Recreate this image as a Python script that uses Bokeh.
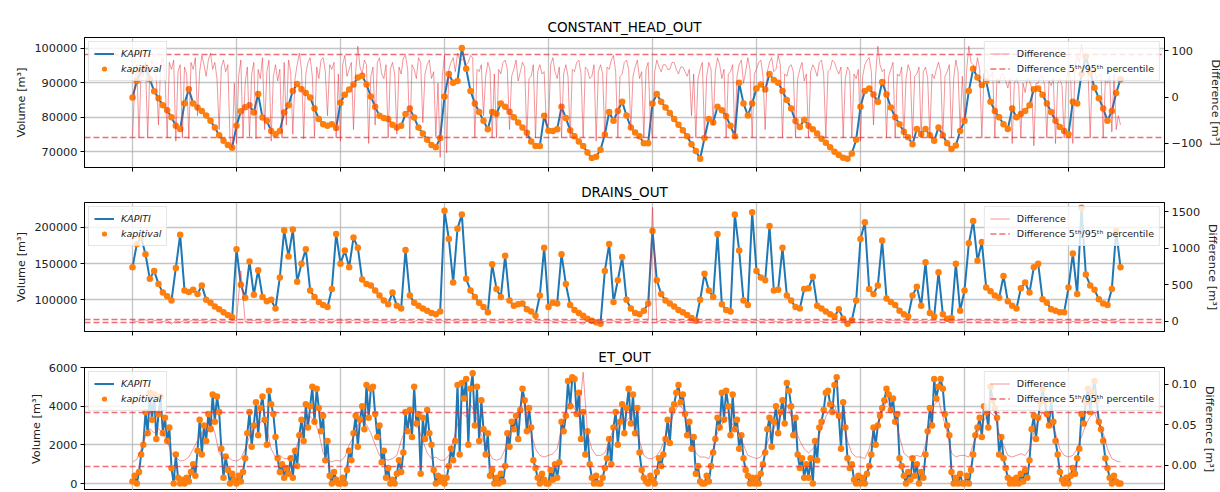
import numpy as np
from bokeh.plotting import figure
from bokeh.layouts import column
from bokeh.models import (Range1d, LinearAxis, FixedTicker, CustomJSTickFormatter,
                          Legend, LegendItem)
from bokeh.embed import file_html
from bokeh.resources import INLINE

# ---------------- data ----------------
# time axis ticks (years) shown as vertical grid lines
year_ticks = [0, 2, 4, 6, 8, 10, 12, 14, 16, 18]

# CONSTANT_HEAD_OUT volume, thousand m3, monthly samples
ch_vol_k = [
    85.7, 90.5, 93.5, 94.4, 91.0, 87.5, 85.5, 83.5, 82.0, 80.0, 77.5, 76.6,
    84.0, 88.1, 84.0, 82.8, 81.8, 80.5, 79.0, 77.0, 74.8, 73.2, 72.0, 71.2,
    77.5, 81.7, 82.9, 83.5, 81.4, 86.7, 79.9, 79.0, 76.0, 75.1, 76.0, 81.4,
    83.5, 87.6, 89.6, 88.1, 87.0, 85.7, 82.5, 79.5, 78.0, 77.5, 78.0, 76.9,
    84.2, 86.5, 88.0, 89.5, 91.5, 92.0, 89.5, 86.0, 83.0, 80.4, 79.8, 79.5,
    77.8, 77.0, 77.5, 80.9, 82.5, 79.9, 77.0, 75.3, 73.5, 72.0, 71.3, 74.0,
    86.0, 92.5, 90.0, 90.5, 100.0, 94.0, 87.6, 84.0, 81.5, 79.0, 76.5, 81.5,
    81.0, 84.0, 83.0, 81.6, 80.0, 78.5, 77.0, 75.5, 73.0, 71.7, 71.7, 80.4,
    76.1, 76.0, 76.5, 83.0, 79.8, 76.2, 74.5, 73.0, 71.7, 69.8, 68.2, 68.6,
    70.6, 75.0, 81.5, 79.0, 81.8, 84.5, 80.5, 77.0, 75.6, 74.5, 72.5, 72.5,
    84.0, 86.7, 84.5, 82.8, 81.2, 79.5, 77.8, 76.2, 74.5, 72.2, 70.2, 68.0,
    74.0, 79.5, 78.5, 83.0, 82.0, 80.3, 77.5, 74.5, 90.0, 84.0, 80.5, 84.0,
    88.3, 89.5, 88.0, 92.5, 90.8, 90.0, 87.6, 85.0, 82.5, 78.9, 77.2, 79.3,
    77.5, 76.5, 75.3, 73.8, 72.6, 71.3, 70.0, 69.1, 68.3, 68.0, 69.5, 73.5,
    83.0, 87.6, 88.3, 86.6, 84.5, 90.2, 86.6, 82.8, 80.0, 78.0, 75.8, 74.2,
    72.2, 76.6, 75.1, 76.6, 74.8, 73.2, 77.0, 74.8, 72.5, 70.8, 71.8, 76.0,
    79.0, 87.6, 94.0, 91.5, 89.3, 90.5, 84.5, 81.8, 80.0, 78.0, 76.6, 82.5,
    80.0, 80.9, 81.8, 83.5, 88.1, 88.3, 86.5, 84.0, 81.5, 79.0, 77.2, 76.0,
    75.1, 84.5, 84.0, 92.5, 97.5, 93.0, 88.5, 85.5, 82.5, 79.0, 81.8, 87.0, 91.0,
]
# CONSTANT_HEAD_OUT difference, m3, half-monthly samples
ch_diff = [
    -85, 20, 70, -88, 60, 45, 75, -88, 55, 80, 65, 40, -60, 70, 85, 50, -88, 75, 60, 80, -95, 55, 70, -88,
    65, 50, -90, 75, 60, 85, -40, 55, 90, 70, 45, 80, 95, 60, 75, 40, -70, 65, 80, 55, 70, -88, -110, 30,
    -100, 45, 80, -88, 30, 65, -85, 50, 75, -90, 60, 40, 85, -70, 55, 80, -95, 45, 70, 35, 60, -88, 75, -60,
    80, 55, -80, 40, 70, 95, 60, -90, 50, 75, 85, 45, -85, 65, 40, 80, 85, 55, -40, 70, 60, 75, -88, 50,
    -95, 70, 90, 45, 60, 75, -70, 55, 110, 65, 50, 80, 70, -100, 45, 65, -60, 75, 85, 50, 40, 70, -88, 60,
    75, 50, -80, 65, 50, 85, 90, 60, -90, 70, 60, 40, 85, 75, -55, 50, 70, 80, 40, 55, -85, 30, -130, 45,
    90, -120, 60, 75, 85, 55, 95, 80, 80, 85, 70, 75, 90, 85, -88, 60, 55, 70, -40, 45, 75, 60, -88, 50,
    -88, 60, 50, 75, 80, 60, -70, 45, 60, 80, 35, 55, 75, 65, -88, 40, 45, 70, -88, 55, 70, 50, 55, -60,
    -60, 70, 85, 55, 40, 65, -88, 50, 70, 45, -88, 60, 55, 75, 80, 50, -88, 65, 60, 40, 45, 70, -95, 55,
    70, 50, -88, 65, 60, 80, 90, 55, -88, 45, 50, 75, 80, 60, -70, 45, 65, 80, 40, 55, -88, 60, 75, -50,
    -88, 55, 80, 65, 55, 70, 70, 60, 60, 75, 75, 60, 50, 65, 65, 55, 45, 60, -40, 50, -88, 40, 60, 75,
    -88, 45, 75, 60, -60, 55, 85, 70, 40, 60, -88, 50, 55, 70, -88, 45, 70, 80, 30, 55, 85, 60, -88, 50,
    60, 75, 80, 45, -70, 55, 75, 85, 55, 60, 90, 70, -88, 50, 45, 65, 70, 55, -88, 40, 60, 75, 35, 50,
    -88, 55, 70, 60, 45, 75, 80, 50, -88, 55, 60, 80, 75, 60, 50, 65, -88, 40, 65, 55, -88, 50, 40, 60,
    -95, 45, 70, 80, 85, 55, -60, 50, 110, 70, 55, 60, -88, 45, 60, 75, -88, 50, 45, 65, -88, 40, 70, 55,
    -88, 45, 50, 65, -88, 55, 65, 40, -88, 50, 40, 60, 75, 55, -88, 45, 55, 70, -88, 40, 80, 55, -70, 45,
    -50, 60, 110, 75, 70, 55, 85, 60, -88, 50, 60, 45, 45, 55, -88, 40, 30, 50, 50, 35, 20, 40, -100, 30,
    40, 25, -88, 30, 10, 40, 35, 20, -105, 30, 30, 45, 45, 25, -88, 35, 25, 40, -100, 30, 40, 25, -88, 35,
    60, 40, -100, 65, 90, 75, 115, 80, 75, 60, -88, 55, 60, 40, 45, 50, -88, 35, 30, 45, -75, 50, -70, -40, -60,
]
ch_pct = [-88, 93]

# DRAINS_OUT volume, thousand m3, monthly samples
dr_vol_k = [
    145, 177, 186, 163, 129, 140, 122, 110, 105, 99, 144, 190,
    113, 111, 114, 108, 120, 100, 96, 91, 87, 83, 79, 76,
    170, 121, 103, 153, 107, 141, 104, 98, 100, 88, 131, 196,
    160, 197, 125, 150, 170, 113, 104, 97, 93, 90, 115, 191,
    150, 168, 145, 186, 172, 128, 122, 120, 113, 106, 99, 94,
    110, 92, 88, 169, 106, 96, 92, 88, 85, 82, 80, 84,
    223, 184, 124, 198, 218, 129, 113, 104, 96, 90, 83, 149,
    115, 104, 161, 99, 92, 94, 95, 87, 84, 78, 106, 172,
    90, 96, 95, 163, 122, 93, 86, 82, 78, 74, 71, 69,
    67, 140, 177, 97, 127, 159, 100, 88, 82, 80, 85, 95,
    195, 127, 108, 99, 95, 91, 86, 83, 79, 75, 71, 100,
    136, 113, 104, 191, 94, 86, 84, 218, 168, 99, 93, 221,
    140, 131, 127, 202, 113, 114, 172, 106, 99, 90, 88, 115,
    116, 132, 92, 88, 84, 80, 77, 87, 74, 67, 72, 99,
    184, 207, 115, 108, 120, 182, 102, 97, 93, 85, 80, 77,
    106, 118, 92, 152, 82, 77, 138, 80, 74, 75, 150, 85,
    113, 178, 209, 154, 180, 117, 112, 106, 103, 133, 98, 92,
    88, 116, 124, 110, 145, 150, 101, 96, 87, 85, 83, 83,
    117, 164, 108, 227, 135, 120, 114, 101, 95, 93, 115, 195, 145,
]
dr_diff = [
    10, -5, 15, 20, -10, 5, 18, -8, 12, -40, 8, -15,
    14, -6, 20, 2, 16, -12, 10, 24, -4, 12, -10, 6,
    8, 690, -15, 18, 5, 22, -8, 12, 0, 16, -12, 10,
    20, -5, 12, 25, -10, 8, 16, -6, 22, 4, -14, 12,
    6, 18, -8, 14, 22, -4, 10, -12, 18, 2, 15, -6,
    12, -10, 20, 4, 16, -8, 24, 6, -12, 14, 0, 18,
    -6, 22, 10, -8, 16, 4, 20, -10, 12, 18, -4, 8,
    15, -12, 6, 20, -6, 12, 24, -2, 10, -10, 16, 4,
    18, -4, 12, -8, 20, 6, 14, -15, -45, 10, -30, 8,
    12, -6, 18, 4, -10, 16, 22, -8, 10, 2, -14, 8,
    1560, -10, 14, 20, -6, 8, 16, -12, 12, 4, 18, -8,
    10, 20, -4, 14, -12, 22, 6, -8, 16, 2, 12, -6,
    18, -10, 8, 20, 4, -14, 16, 10, -6, 22, 0, 12,
    -8, 14, 20, -6, 10, 18, -12, 6, 22, -4, 12, -20,
    -15, 16, 6, -8, 20, 12, -10, 18, 4, 14, -6, 10,
    22, -4, 12, -12, 16, 8, -6, 20, 2, -10, 14, 6,
    -10, 18, 24, -6, 12, 4, 16, -8, 20, 10, -4, 14,
    8, -12, 16, 22, -2, 10, -8, 18, 6, 14, -10, 12,
    20, -6, 12, 4, 16, -8, 22, 10, -12, 14, 6, -4, 10,
]
dr_pct = [-22, 27]

# ET_OUT volume, m3, half-monthly samples
et_vol = [
    100, 400, 0, 600, 1500, 2000, 3700, 2600, 4700, 3300, 4600, 2300, 3600, 4500, 2600, 3400, 2200, 2900, 800, 0, 1500, 300, 0, 200,
    0, 300, 100, 600, 1000, 400, 1700, 3300, 1500, 3000, 2200, 3600, 2800, 4600, 3200, 4500, 3700, 1800, 300, 1400, 700, 0, 500, 200,
    0, 400, 100, 600, 1300, 2600, 3700, 1900, 3000, 4200, 2500, 3900, 4500, 3300, 2000, 4800, 4100, 3600, 2400, 1300, 600, 1000, 300, 800,
    500, 1300, 300, 1700, 900, 2500, 3300, 2200, 4100, 2900, 4000, 5000, 3200, 4900, 3900, 2700, 3500, 1200, 2200, 400, 0, 600, 200, 0,
    0, 300, 0, 700, 1700, 1200, 2600, 3500, 1900, 3300, 4000, 2800, 5100, 3400, 4900, 5000, 3600, 2400, 3000, 1100, 1700, 300, 800, 0,
    200, 0, 500, 1200, 600, 1600, 3700, 2700, 3800, 2400, 5000, 3100, 3600, 500, 3400, 2300, 3800, 2600, 2000, 700, 0, 400, 100, 300,
    0, 300, 900, 1800, 1200, 2200, 5100, 1500, 5200, 4400, 5400, 2000, 4900, 5700, 3000, 5000, 2200, 4300, 2800, 1500, 2600, 400, 700, 0,
    300, 0, 500, 100, 900, 2600, 1900, 3200, 2800, 3500, 2300, 3800, 4900, 4300, 2700, 3900, 2900, 1200, 800, 300, 0, 500, 200, 0,
    0, 700, 200, 1000, 300, 1100, 3200, 2700, 3500, 5300, 4000, 5500, 5400, 3600, 4700, 2300, 3700, 1500, 2700, 1000, 300, 0, 400, 0,
    0, 300, 800, 1300, 2300, 1000, 2900, 3700, 2000, 3200, 4100, 2600, 3900, 4900, 3100, 4600, 2600, 3900, 1600, 700, 300, 100, 0, 400,
    200, 0, 600, 1300, 900, 1500, 2300, 3300, 2100, 3800, 4100, 4700, 5100, 4200, 4600, 3600, 2500, 3200, 1800, 2400, 500, 900, 100, 0,
    0, 400, 100, 900, 1600, 2300, 3400, 2900, 4700, 3300, 4800, 4000, 2500, 4600, 2800, 3300, 1800, 2500, 1300, 700, 400, 0, 300, 0,
    300, 0, 500, 1000, 1600, 2800, 3400, 1900, 3200, 4000, 2600, 3700, 4300, 3100, 5200, 4800, 4000, 2500, 3400, 1500, 800, 1300, 300, 1000,
    300, 1300, 0, 2200, 1200, 2900, 3200, 3800, 4700, 4800, 4100, 3700, 5100, 5500, 3500, 1800, 4200, 2900, 1300, 800, 1000, 200, 0, 400,
    0, 300, 0, 500, 900, 1500, 2900, 2000, 3000, 3500, 3900, 4300, 4900, 4600, 3800, 4400, 3200, 3600, 1300, 900, 400, 0, 600, 200,
    1300, 400, 1000, 0, 600, 300, 1500, 2700, 3900, 3000, 5400, 4400, 5000, 5400, 4900, 3600, 3000, 2500, 600, 0, 300, 0, 500, 0,
    0, 400, 0, 700, 1500, 2500, 2900, 3400, 2400, 4000, 3700, 2900, 5000, 4300, 3900, 3400, 1500, 2400, 1300, 800, 300, 0, 200, 0,
    300, 0, 500, 100, 700, 300, 1200, 2800, 3500, 2300, 3400, 4200, 4900, 4300, 3600, 3000, 4300, 3200, 2200, 1500, 600, 200, 0, 300,
    0, 400, 800, 500, 1300, 1800, 3600, 3100, 4200, 4900, 3700, 4700, 5300, 4300, 3200, 2800, 2200, 1300, 800, 300, 0, 400, 100, 0, 0,
]
# ET_OUT difference, m3, monthly samples
et_diff = [
    0.004, 0.007, 0.020, 0.035, 0.045, 0.040, 0.045, 0.040, 0.030, 0.015, 0.010, 0.005,
    0.006, 0.010, 0.020, 0.030, 0.040, 0.045, 0.055, 0.040, 0.015, 0.008, 0.010, 0.006,
    0.005, 0.008, 0.020, 0.035, 0.045, 0.050, 0.055, 0.045, 0.020, 0.010, 0.012, 0.008,
    0.008, 0.012, 0.025, 0.040, 0.050, 0.060, 0.055, 0.040, 0.015, 0.006, 0.004, 0.006,
    0.005, 0.010, 0.025, 0.035, 0.050, 0.055, 0.050, 0.040, 0.025, 0.012, 0.008, 0.006,
    0.008, 0.012, 0.030, 0.045, 0.055, 0.050, 0.045, 0.030, 0.015, 0.008, 0.010, 0.006,
    0.006, 0.012, 0.030, 0.050, 0.065, 0.060, 0.075, 0.065, 0.045, 0.030, 0.020, 0.008,
    0.006, 0.008, 0.020, 0.040, 0.050, 0.060, 0.085, 0.060, 0.040, 0.020, 0.012, 0.010,
    0.012, 0.014, 0.020, 0.045, 0.065, 0.080, 0.070, 0.060, 0.115, 0.040, 0.020, 0.012,
    0.012, 0.015, 0.030, 0.045, 0.050, 0.060, 0.055, 0.060, 0.045, 0.030, 0.012, 0.008,
    0.008, 0.012, 0.020, 0.035, 0.050, 0.065, 0.075, 0.070, 0.050, 0.030, 0.015, 0.010,
    0.010, 0.008, 0.020, 0.040, 0.050, 0.060, 0.055, 0.045, 0.040, 0.025, 0.012, 0.010,
    0.008, 0.010, 0.020, 0.035, 0.045, 0.055, 0.065, 0.075, 0.060, 0.045, 0.030, 0.020,
    0.015, 0.020, 0.030, 0.045, 0.060, 0.070, 0.075, 0.055, 0.060, 0.030, 0.015, 0.010,
    0.010, 0.008, 0.020, 0.040, 0.050, 0.065, 0.080, 0.070, 0.060, 0.035, 0.015, 0.010,
    0.010, 0.012, 0.010, 0.025, 0.050, 0.075, 0.080, 0.060, 0.040, 0.015, 0.010, 0.012,
    0.012, 0.010, 0.025, 0.040, 0.050, 0.060, 0.065, 0.060, 0.040, 0.025, 0.012, 0.010,
    0.012, 0.014, 0.012, 0.020, 0.040, 0.055, 0.065, 0.060, 0.050, 0.040, 0.020, 0.012,
    0.010, 0.012, 0.020, 0.035, 0.050, 0.060, 0.065, 0.050, 0.040, 0.020, 0.008, 0.005, 0.004,
]
et_pct = [-0.0015, 0.065]

# sample times in years
t_month = np.arange(len(ch_vol_k)) / 12.0
t_half = np.arange(len(et_vol)) / 24.0

# ---------------- styling ----------------
FONT = "DejaVu Sans"
BLUE = "#1f77b4"
ORANGE = "#ff7f0e"
RED = "#e8303a"
TXT = "#222222"
X_RANGE = (-0.923, 19.846)


def fmt(dec):
    return CustomJSTickFormatter(code="return tick.toFixed(%d).replace('-', '\u2212');" % dec)


def style_axis(ax, ticks, dec, label):
    ax.ticker = FixedTicker(ticks=ticks)
    ax.formatter = fmt(dec)
    ax.axis_label = label
    ax.major_tick_in = 0
    ax.major_tick_out = 4
    ax.minor_tick_line_color = None
    ax.major_tick_line_color = "black"
    ax.axis_line_color = "black"
    ax.major_label_text_font = FONT
    ax.major_label_text_font_size = "11.3px"
    ax.major_label_text_color = TXT
    ax.major_label_standoff = 3
    ax.axis_label_text_font = FONT
    ax.axis_label_text_font_size = "11.3px"
    ax.axis_label_text_font_style = "normal"
    ax.axis_label_text_color = TXT
    ax.axis_label_standoff = 3


def style_legend(lg, italic):
    lg.label_text_font = FONT
    lg.label_text_font_size = "9.5px"
    lg.label_text_font_style = "italic" if italic else "normal"
    lg.label_text_color = TXT
    lg.glyph_width = 20
    lg.glyph_height = 13
    lg.label_height = 13
    lg.label_standoff = 7
    lg.spacing = 2
    lg.padding = 5
    lg.margin = 4
    lg.border_line_color = "#cccccc"
    lg.border_line_width = 1
    lg.background_fill_color = "white"
    lg.background_fill_alpha = 0.8


def panel(title, t, vol, t_d, diff, pct, yl, yr, lticks, ldec, rticks, rdec,
          frame_h, top, bottom, show_x):
    p = figure(frame_width=1080, frame_height=frame_h,
               x_range=Range1d(*X_RANGE), y_range=Range1d(*yl),
               output_backend="svg", toolbar_location=None,
               x_axis_location="below" if show_x else None,
               min_border_left=84, min_border_right=54,
               min_border_top=top, min_border_bottom=bottom)
    p.background_fill_color = "white"
    p.border_fill_color = "white"
    p.outline_line_color = "black"
    p.outline_line_width = 1
    p.outline_line_alpha = 1

    p.title.text = title
    p.title.align = "center"
    p.title.text_font = FONT
    p.title.text_font_size = "13.5px"
    p.title.text_font_style = "normal"
    p.title.text_color = "black"
    p.title.standoff = 5

    p.extra_y_ranges = {"diff": Range1d(*yr)}
    ax_r = LinearAxis(y_range_name="diff")
    p.add_layout(ax_r, "right")
    style_axis(p.left[0], lticks, ldec, "Volume [m³]")
    style_axis(ax_r, rticks, rdec, "Difference [m³]")

    if show_x:
        xa = p.below[0]
        xa.ticker = FixedTicker(ticks=year_ticks)
        xa.formatter = CustomJSTickFormatter(code="return '';")
        xa.major_label_text_font_size = "0px"
        xa.major_label_standoff = 0
        xa.major_tick_in = 0
        xa.major_tick_out = 4
        xa.minor_tick_line_color = None
        xa.major_tick_line_color = "black"
        xa.axis_line_color = "black"

    p.xgrid.ticker = FixedTicker(ticks=year_ticks)
    p.ygrid.ticker = FixedTicker(ticks=lticks)
    for g in (p.xgrid, p.ygrid):
        g.grid_line_color = "#b0b0b0"
        g.grid_line_alpha = 0.75
        g.grid_line_width = 1.3

    ln = p.line(t, vol, line_color=BLUE, line_width=2)
    dots = p.scatter(t, vol, size=6.5, fill_color=ORANGE, line_color=None)
    dl = p.line(t_d, diff, y_range_name="diff", line_color=RED,
                line_alpha=0.5, line_width=1)
    pl = p.hspan(y=pct, y_range_name="diff", line_color=RED, line_alpha=0.7,
                 line_width=1.3, line_dash="6 3")

    lg1 = Legend(items=[LegendItem(label="KAPITI", renderers=[ln]),
                        LegendItem(label="kapitival", renderers=[dots])],
                 location="top_left")
    lg2 = Legend(items=[LegendItem(label="Difference", renderers=[dl]),
                        LegendItem(label="Difference 5ᵗʰ/95ᵗʰ percentile", renderers=[pl])],
                 location="top_right")
    style_legend(lg1, True)
    style_legend(lg2, False)
    p.add_layout(lg1)
    p.add_layout(lg2)
    return p


p1 = panel("CONSTANT_HEAD_OUT", t_month, np.array(ch_vol_k) * 1000.0, t_half, ch_diff, ch_pct,
           (65460, 103060), (-151.8, 128.7), [70000, 80000, 90000, 100000], 0,
           [-100, 0, 100], 0, 130, 37, 8, True)
p2 = panel("DRAINS_OUT", t_month, np.array(dr_vol_k) * 1000.0, t_month, dr_diff, dr_pct,
           (56330, 234400), (-141, 1627), [100000, 150000, 200000], 0,
           [0, 500, 1000, 1500], 0, 129, 27, 10, True)
p3 = panel("ET_OUT", t_half, et_vol, t_month, et_diff, et_pct,
           (-362, 6000), (-0.0315, 0.1209), [0, 2000, 4000, 6000], 0,
           [0.0, 0.05, 0.1], 2, 123, 26, 0, False)

layout = column(p1, p2, p3)
open("out.html", "w").write(file_html(layout, INLINE))
